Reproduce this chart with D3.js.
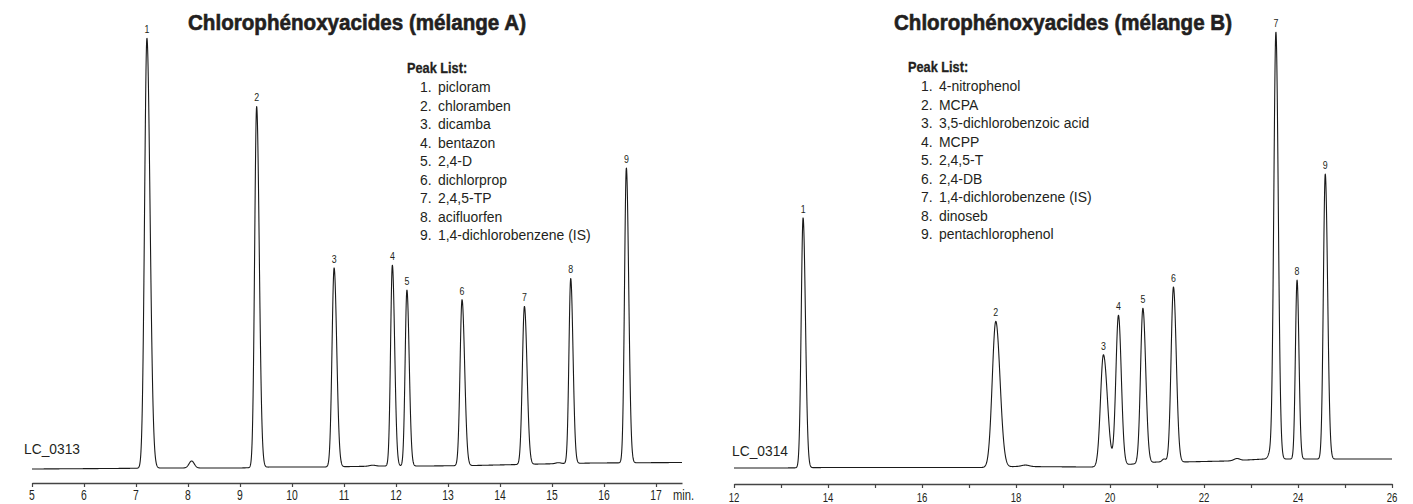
<!DOCTYPE html>
<html>
<head>
<meta charset="utf-8">
<script src="https://cdn.jsdelivr.net/npm/d3@7"></script>
<style>
  html, body { margin: 0; padding: 0; background: #fff; }
  svg { display: block; }
  text { font-family: "Liberation Sans", Arial, sans-serif; fill: #231f20; }
</style>
</head>
<body>
<svg id="chart" width="1413" height="504"></svg>
<script>
// ---------- DATA ----------
// Panel A : chlorophenoxy acids (mixture A)
const titleA = "Chlorophénoxyacides (mélange A)";
const runA = "LC_0313";
const compoundsA = ["picloram", "chloramben", "dicamba", "bentazon", "2,4-D", "dichlorprop", "2,4,5-TP", "acifluorfen", "1,4-dichlorobenzene (IS)"];
const peakLabelsA = ["1", "2", "3", "4", "5", "6", "7", "8", "9"];
const retentionA = [7.21, 9.32, 10.81, 11.93, 12.21, 13.27, 14.47, 15.36, 16.43];   // min
const heightA = [430, 361, 199, 201, 176, 166, 158, 185, 295];                    // response
const sigmaLA = [0.045, 0.038, 0.040, 0.034, 0.034, 0.038, 0.040, 0.034, 0.035];
const sigmaRA = [0.060, 0.050, 0.050, 0.044, 0.044, 0.050, 0.050, 0.044, 0.045];
const minorRetentionA = [8.07, 11.55, 15.12];
const minorHeightA = [7, 1, 1];
const minorSigmaA = [0.05, 0.06, 0.05];
const baselineTimeA = [5.0, 6.5, 7.6, 9.0, 9.6, 10.6, 11.2, 11.8, 12.6, 13.5, 14.8, 15.8, 17.5];
const baselineValueA = [1, 1.5, 2, 2, 3, 3, 3.5, 4, 4, 4.5, 6, 7, 7.5];
const ticksA = [5, 6, 7, 8, 9, 10, 11, 12, 13, 14, 15, 16, 17];
const domainA = [5, 17.5];

// Panel B : chlorophenoxy acids (mixture B)
const titleB = "Chlorophénoxyacides (mélange B)";
const runB = "LC_0314";
const compoundsB = ["4-nitrophenol", "MCPA", "3,5-dichlorobenzoic acid", "MCPP", "2,4,5-T", "2,4-DB", "1,4-dichlorobenzene (IS)", "dinoseb", "pentachlorophenol"];
const peakLabelsB = ["1", "2", "3", "4", "5", "6", "7", "8", "9"];
const retentionB = [13.47, 17.57, 19.86, 20.18, 20.70, 21.35, 23.53, 23.98, 24.58];
const heightB = [250, 146, 112, 150, 155, 175, 427, 179, 285];
const sigmaLB = [0.040, 0.075, 0.062, 0.055, 0.050, 0.050, 0.045, 0.035, 0.040];
const sigmaRB = [0.050, 0.090, 0.085, 0.060, 0.060, 0.060, 0.050, 0.040, 0.050];
const minorRetentionB = [18.2, 21.15, 22.7, 23.4];
const minorHeightB = [1.5, 3, 2, 5];
const minorSigmaB = [0.08, 0.04, 0.06, 0.04];
const baselineTimeB = [12, 13, 14, 16, 17.5, 18.0, 19.5, 19.8, 20.5, 21.0, 21.5, 22.5, 23.3, 24.3, 26];
const baselineValueB = [2, 2, 2.5, 2.5, 2.5, 3.5, 3, 3, 6, 8, 8, 9, 11, 11, 11];
const ticksB = [12, 13, 14, 15, 16, 17, 18, 19, 20, 21, 22, 23, 24, 25, 26];
const tickLabelsB = [12, 14, 16, 18, 20, 22, 24, 26];
const domainB = [12, 26];

const legendTitle = "Peak List:";
const unitLabel = "min.";

// ---------- DRAWING ----------
const svg = d3.select("#chart");
const ink = "#231f20";

// condensed text: real text, horizontally squeezed
function txt(g, x, y, s, size, sx, opts = {}) {
  const t = g.append("text")
    .attr("transform", `translate(${x},${y}) scale(${sx},1)`)
    .attr("font-size", size)
    .attr("text-anchor", opts.anchor || "start")
    .attr("font-weight", opts.weight || "normal")
    .text(s);
  return t;
}

function trace(domain, rts, hs, sL, sR, mRt, mH, mS, bT, bV, step) {
  const base = d3.scaleLinear().domain(bT).range(bV).clamp(true);
  const pts = [];
  for (let t = domain[0]; t <= domain[1] + 1e-9; t += step) {
    let v = base(t);
    rts.forEach((rt, i) => {
      const s = t < rt ? sL[i] : sR[i];
      v += hs[i] * Math.exp(-0.5 * ((t - rt) / s) ** 2);
    });
    mRt.forEach((rt, i) => {
      v += mH[i] * Math.exp(-0.5 * ((t - rt) / mS[i]) ** 2);
    });
    pts.push([t, v]);
  }
  return pts;
}

function panel(cfg) {
  const g = svg.append("g");
  const x = d3.scaleLinear().domain(cfg.domain).range(cfg.xRange);
  const y = d3.scaleLinear().domain([0, 450]).range([470, 20]);

  const pts = trace(cfg.domain, cfg.rt, cfg.h, cfg.sL, cfg.sR, cfg.mRt, cfg.mH, cfg.mS, cfg.bT, cfg.bV, 0.004);
  g.append("path")
    .datum(pts)
    .attr("fill", "none")
    .attr("stroke", "#1a1a1a")
    .attr("stroke-width", 1.1)
    .attr("stroke-linejoin", "round")
    .attr("d", d3.line().x(d => x(d[0])).y(d => y(d[1])));

  // peak labels
  const base = d3.scaleLinear().domain(cfg.bT).range(cfg.bV).clamp(true);
  cfg.rt.forEach((d, i) => {
    txt(g, x(d), y(base(d) + cfg.h[i]) - 5, cfg.labels[i], 11, 0.8, { anchor: "middle" });
  });

  // axis
  const axis = d3.axisBottom(x)
    .tickValues(cfg.ticks)
    .tickSize(4)
    .tickSizeOuter(0)
    .tickFormat("");
  const ag = g.append("g").attr("transform", `translate(0,${cfg.axisY})`).call(axis);
  ag.select(".domain").attr("stroke", "#444").attr("stroke-width", 1.6);
  ag.selectAll(".tick line").attr("stroke", "#444").attr("stroke-width", 1.2);
  cfg.tickLabels.forEach(v => {
    txt(g, x(v), cfg.axisY + cfg.labelDy, String(v), cfg.labelSize, 0.74, { anchor: "middle" });
  });

  if (cfg.unit) {
    txt(g, x(cfg.domain[1]) - 9, cfg.axisY + cfg.labelDy, cfg.unit, cfg.labelSize, 0.8);
  }

  // title
  g.append("text")
    .attr("x", (cfg.xRange[0] + cfg.xRange[1]) / 2)
    .attr("y", 30)
    .attr("text-anchor", "middle")
    .attr("font-size", 22)
    .attr("font-weight", "bold")
    .attr("stroke", ink)
    .attr("stroke-width", 0.6)
    .attr("textLength", 338)
    .attr("lengthAdjust", "spacingAndGlyphs")
    .text(cfg.title);

  // run id
  txt(g, cfg.runX, cfg.runY, cfg.run, 15, 0.92);

  // legend
  const lg = g.append("g");
  txt(lg, cfg.legX, cfg.legY, legendTitle, 15, 0.85, { weight: "bold" }).attr("stroke", ink).attr("stroke-width", 0.3);
  cfg.compounds.forEach((c, i) => {
    const yy = cfg.legY + 19 + i * 18.5;
    txt(lg, cfg.legX + 13, yy, `${i + 1}.`, 15, 0.93);
    txt(lg, cfg.legX + 31, yy, c, 15, 0.93);
  });
}

panel({
  domain: domainA, xRange: [32, 682], axisY: 483, labelDy: 17, labelSize: 14,
  rt: retentionA, h: heightA, sL: sigmaLA, sR: sigmaRA,
  mRt: minorRetentionA, mH: minorHeightA, mS: minorSigmaA,
  bT: baselineTimeA, bV: baselineValueA,
  labels: peakLabelsA, ticks: ticksA, tickLabels: ticksA, unit: unitLabel,
  title: titleA, run: runA, runX: 24, runY: 454,
  compounds: compoundsA, legX: 407, legY: 73
});

panel({
  domain: domainB, xRange: [734, 1392], axisY: 484, labelDy: 18, labelSize: 13,
  rt: retentionB, h: heightB, sL: sigmaLB, sR: sigmaRB,
  mRt: minorRetentionB, mH: minorHeightB, mS: minorSigmaB,
  bT: baselineTimeB, bV: baselineValueB,
  labels: peakLabelsB, ticks: ticksB, tickLabels: tickLabelsB, unit: null,
  title: titleB, run: runB, runX: 732, runY: 456,
  compounds: compoundsB, legX: 908, legY: 72
});
</script>
</body>
</html>
